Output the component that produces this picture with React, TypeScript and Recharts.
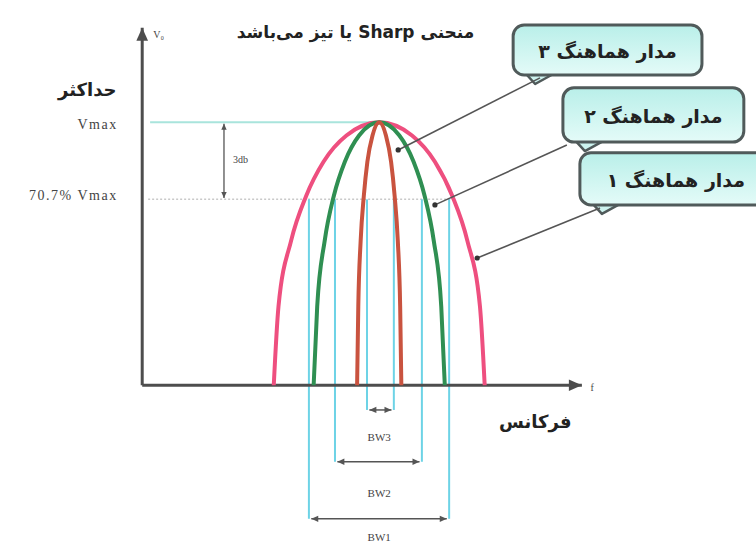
import React from "react";
import {
  ComposedChart,
  Line,
  XAxis,
  YAxis,
  ReferenceLine,
  ReferenceDot,
  ReferenceArea,
} from "recharts";

// response of three tuned circuits: f = frequency, v = output in % of Vmax
const circuit1 = [
  { f: 33.3, v: 0 }, { f: 34.5, v: 30 }, { f: 37.7, v: 55 }, { f: 41.5, v: 72 },
  { f: 45.9, v: 85 }, { f: 51.7, v: 95 }, { f: 60, v: 100 }, { f: 68.3, v: 95 },
  { f: 74.1, v: 85 }, { f: 78.5, v: 72 }, { f: 82.3, v: 55 }, { f: 85.5, v: 30 },
  { f: 86.7, v: 0 },
];
const circuit2 = [
  { f: 43.4, v: 0 }, { f: 44.3, v: 30 }, { f: 46.2, v: 55 }, { f: 48.5, v: 72 },
  { f: 51.3, v: 85 }, { f: 54.9, v: 95 }, { f: 60, v: 100 }, { f: 65.1, v: 95 },
  { f: 68.7, v: 85 }, { f: 71.5, v: 72 }, { f: 73.8, v: 55 }, { f: 75.7, v: 30 },
  { f: 76.6, v: 0 },
];
const circuit3 = [
  { f: 54.4, v: 0 }, { f: 54.7, v: 30 }, { f: 55.3, v: 55 }, { f: 56.1, v: 72 },
  { f: 57.0, v: 85 }, { f: 58.3, v: 95 }, { f: 60, v: 100 }, { f: 61.7, v: 95 },
  { f: 63.0, v: 85 }, { f: 63.9, v: 72 }, { f: 64.7, v: 55 }, { f: 65.3, v: 30 },
  { f: 65.6, v: 0 },
];

const VMAX = 100;
const HALF_POWER = 70.7;

// bandwidth markers, widest first
const bandNames = ["BW1", "BW2", "BW3"];
const bandLow = [42.2, 48.8, 56.9];
const bandHigh = [77.7, 70.8, 63.7];
const bandArrowLevel = [-50.8, -29.1, -9.4];
const bandLabelLevel = [-57.6, -40.9, -19.6];

const calloutTexts = ["مدار هماهنگ ۱", "مدار هماهنگ ۲", "مدار هماهنگ ۳"];

const PINK = "#ee4f7f";
const GREEN = "#2f8f52";
const RED = "#c9533f";
const CYAN = "#6dd3e6";
const AXIS = "#4d4d4d";

const SERIF = "'Liberation Serif', 'Times New Roman', serif";
const FA = "'DejaVu Sans', sans-serif";

// callout boxes and their leader lines (data coordinates)
const boxes = [
  { x1: 110.8, x2: 160, y1: 68.6, y2: 88.4, tx: 135.1, from: [115.9, 67.4], to: [84.8, 48.4] },
  { x1: 106.5, x2: 152.3, y1: 92.5, y2: 113.1, tx: 129.4, from: [107.5, 91.4], to: [74.1, 68.6] },
  { x1: 93.9, x2: 141.7, y1: 118.0, y2: 137.0, tx: 117.8, from: [100.7, 116.9], to: [64.8, 89.5] },
];

type Heads = "none" | "end" | "both";

const head = (x: number, y: number, dx: number, dy: number, size: number, color: string, key: string) => {
  const len = Math.hypot(dx, dy) || 1;
  const ux = dx / len;
  const uy = dy / len;
  const bx = x - ux * size;
  const by = y - uy * size;
  const w = size * 0.45;
  return (
    <polygon
      key={key}
      points={`${x},${y} ${bx - uy * w},${by + ux * w} ${bx + uy * w},${by - ux * w}`}
      fill={color}
    />
  );
};

const arrowLine =
  (heads: Heads, color: string, width: number, size = 8) =>
  (p: any) => {
    const { x1, y1, x2, y2 } = p;
    return (
      <g>
        <line x1={x1} y1={y1} x2={x2} y2={y2} stroke={color} strokeWidth={width} />
        {heads !== "none" && head(x2, y2, x2 - x1, y2 - y1, size, color, "e")}
        {heads === "both" && head(x1, y1, x1 - x2, y1 - y2, size, color, "s")}
      </g>
    );
  };

type TextOpts = {
  size: number;
  anchor?: "start" | "middle" | "end";
  family?: string;
  weight?: string | number;
  color?: string;
  rtl?: boolean;
  spacing?: number;
};

const textAt = (text: string, opts: TextOpts) => (p: any) => (
  <text
    x={p.cx}
    y={p.cy}
    fontSize={opts.size}
    fontFamily={opts.family ?? SERIF}
    fontWeight={opts.weight ?? "normal"}
    fill={opts.color ?? "#333"}
    textAnchor={opts.anchor ?? "middle"}
    dominantBaseline="central"
    letterSpacing={opts.spacing}
    direction={opts.rtl ? "rtl" : undefined}
    style={opts.rtl ? { unicodeBidi: "plaintext" } : undefined}
  >
    {text}
  </text>
);

// pixel position of a data x (x domain -36..155 across 754.5px)
const px = (f: number) => ((f + 36) / 191) * 754.5;

const calloutBox = (text: string, textX: number) => (p: any) => {
  const { x, y, width, height } = p;
  const bottom = y + height;
  return (
    <g>
      <path
        d={`M ${x + 12} ${bottom - 2} L ${x + 22} ${bottom + 9} L ${x + 42} ${bottom - 2} Z`}
        fill="#cdf3ef"
        stroke="#505a5a"
        strokeWidth={2.5}
        strokeLinejoin="round"
      />
      <rect x={x} y={y} width={width} height={height} rx={11} ry={11} fill="url(#boxFill)" stroke="#505a5a" strokeWidth={3} />
      <text
        x={textX}
        y={y + height / 2 + 1}
        fontSize={19}
        fontFamily={FA}
        fontWeight="bold"
        fill="#222"
        textAnchor="middle"
        dominantBaseline="central"
      >
        {text}
      </text>
    </g>
  );
};

export default function App() {
  return (
    <div style={{ position: "absolute", left: 0, top: 0, background: "#fff" }}>
      <ComposedChart width={756} height={544} margin={{ top: 4, right: 1.5, bottom: 1, left: 0 }}>
        <defs>
          <linearGradient id="boxFill" x1="0" y1="0" x2="0" y2="1">
            <stop offset="0%" stopColor="#b9efe9" />
            <stop offset="100%" stopColor="#e4fbf8" />
          </linearGradient>
        </defs>
        <XAxis type="number" dataKey="f" domain={[-36, 155]} hide allowDataOverflow />
        <YAxis type="number" dataKey="v" domain={[-60, 145]} hide allowDataOverflow />

        {/* reference levels */}
        <ReferenceLine segment={[{ x: 2, y: VMAX }, { x: 60, y: VMAX }]} stroke="#a9e4dc" strokeWidth={2} />
        <ReferenceLine
          segment={[{ x: 1.5, y: HALF_POWER }, { x: 79, y: HALF_POWER }]}
          stroke="#c9c9c9"
          strokeWidth={1.5}
          strokeDasharray="2 2"
        />

        {/* bandwidth guides */}
        {bandNames.map((name, i) => (
          <ReferenceLine
            key={`lo-${name}`}
            segment={[{ x: bandLow[i], y: HALF_POWER }, { x: bandLow[i], y: bandArrowLevel[i] }]}
            stroke={CYAN}
            strokeWidth={2}
          />
        ))}
        {bandNames.map((name, i) => (
          <ReferenceLine
            key={`hi-${name}`}
            segment={[{ x: bandHigh[i], y: HALF_POWER }, { x: bandHigh[i], y: bandArrowLevel[i] }]}
            stroke={CYAN}
            strokeWidth={2}
          />
        ))}
        {bandNames.map((name, i) => (
          <ReferenceLine
            key={`arr-${name}`}
            segment={[{ x: bandLow[i] + 0.6, y: bandArrowLevel[i] }, { x: bandHigh[i] - 0.6, y: bandArrowLevel[i] }]}
            shape={arrowLine("both", "#555", 1.5, 7)}
          />
        ))}
        {bandNames.map((name, i) => (
          <ReferenceDot
            key={`lbl-${name}`}
            x={60}
            y={bandLabelLevel[i]}
            r={0}
            shape={textAt(name, { size: 11, color: "#444" })}
          />
        ))}

        {/* axes */}
        <ReferenceLine segment={[{ x: 0, y: 0 }, { x: 0, y: 136 }]} shape={arrowLine("end", AXIS, 3, 13)} />
        <ReferenceLine segment={[{ x: 0, y: 0 }, { x: 111.3, y: 0 }]} shape={arrowLine("end", AXIS, 3, 13)} />

        {/* 3 dB drop */}
        <ReferenceLine
          segment={[{ x: 20.7, y: VMAX - 0.5 }, { x: 20.7, y: HALF_POWER + 0.5 }]}
          shape={arrowLine("both", "#555", 1.3, 6)}
        />
        <ReferenceDot x={23} y={86} r={0} shape={textAt("3db", { size: 10, anchor: "start", color: "#444" })} />

        <Line data={circuit1} dataKey="v" type="monotone" stroke={PINK} strokeWidth={4} dot={false} isAnimationActive={false} />
        <Line data={circuit2} dataKey="v" type="monotone" stroke={GREEN} strokeWidth={4} dot={false} isAnimationActive={false} />
        <Line data={circuit3} dataKey="v" type="monotone" stroke={RED} strokeWidth={4} dot={false} isAnimationActive={false} />

        {/* leaders and callouts */}
        {boxes.map((b, i) => (
          <ReferenceLine
            key={`lead-${i}`}
            segment={[{ x: b.from[0], y: b.from[1] }, { x: b.to[0], y: b.to[1] }]}
            stroke="#555"
            strokeWidth={1.6}
          />
        ))}
        {boxes.map((b, i) => (
          <ReferenceDot key={`end-${i}`} x={b.to[0]} y={b.to[1]} r={2.6} fill="#333" stroke="none" />
        ))}
        {boxes.map((b, i) => (
          <ReferenceArea
            key={`box-${i}`}
            x1={b.x1}
            x2={b.x2}
            y1={b.y1}
            y2={b.y2}
            ifOverflow="visible"
            shape={calloutBox(calloutTexts[i], px(b.tx))}
          />
        ))}

        {/* axis captions */}
        <ReferenceDot x={2.8} y={133.3} r={0} shape={textAt("V\u2080", { size: 10, anchor: "start", color: "#444" })} />
        <ReferenceDot x={113.5} y={-1} r={0} shape={textAt("f", { size: 10, anchor: "start", color: "#444" })} />
        <ReferenceDot
          x={54}
          y={134.5}
          r={0}
          shape={textAt("منحنی Sharp یا تیز می‌باشد", { size: 17, family: FA, weight: "bold", color: "#222", rtl: true })}
        />
        <ReferenceDot x={-6.5} y={112.3} r={0} shape={textAt("حداکثر", { size: 18, anchor: "end", family: FA, weight: "bold", color: "#222" })} />
        <ReferenceDot x={-6.2} y={99} r={0} shape={textAt("Vmax", { size: 14, anchor: "end", color: "#444", spacing: 1.5 })} />
        <ReferenceDot x={-6.2} y={72.3} r={0} shape={textAt("70.7% Vmax", { size: 14, anchor: "end", color: "#444", spacing: 1.5 })} />
        <ReferenceDot x={99.5} y={-13.9} r={0} shape={textAt("فرکانس", { size: 18, family: FA, weight: "bold", color: "#222" })} />
      </ComposedChart>
    </div>
  );
}
